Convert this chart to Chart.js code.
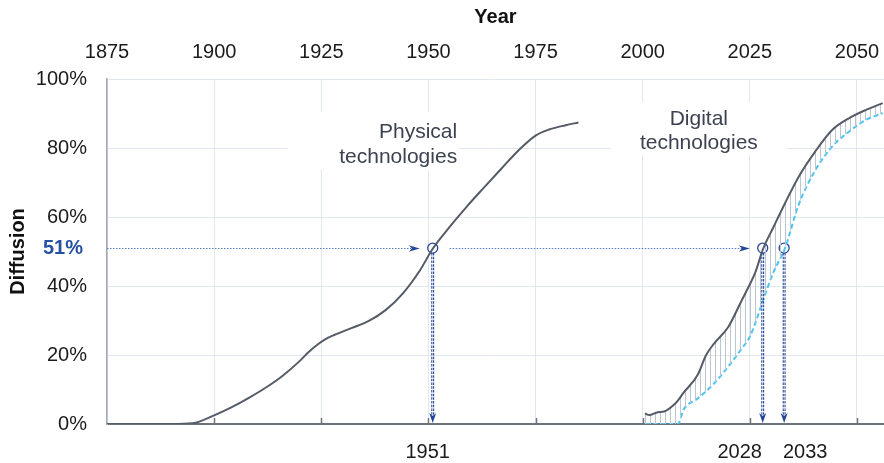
<!DOCTYPE html>
<html><head><meta charset="utf-8">
<script src="https://cdn.jsdelivr.net/npm/chart.js@4.4.1/dist/chart.umd.min.js"></script>
<style>html,body{margin:0;padding:0;background:#fff;overflow:hidden}</style>
</head><body>
<canvas id="c" width="884" height="463"></canvas>
<script>
// ---------- data ----------
const xTickYears = [1875, 1900, 1925, 1950, 1975, 2000, 2025, 2050];
const yTickValues = [0, 20, 40, 60, 80, 100];

const physicalYears  = [1875, 1890, 1895, 1900, 1904, 1908, 1912, 1916, 1920, 1922, 1924, 1926, 1928, 1932, 1936, 1940, 1944, 1948, 1951, 1955, 1959, 1963, 1967, 1971, 1975, 1978, 1982, 1985];
const physicalValues = [0, 0, 0.2, 2.5, 4.8, 7.5, 10.5, 14.0, 18.3, 20.8, 22.9, 24.6, 25.8, 27.8, 29.8, 33.0, 37.8, 44.5, 50.8, 57.2, 63.1, 68.6, 74.0, 79.3, 83.6, 85.3, 86.6, 87.4];

const digitalYears        = [2000.5, 2001.5, 2003.5, 2005, 2007.2, 2008.2, 2009.5, 2012.8, 2014.8, 2016.7, 2020, 2023, 2025, 2026.2, 2028.1, 2030.4, 2033.2, 2036.4, 2040.2, 2044.2, 2048.1, 2052, 2056];
const digitalActualValues = [3.1, 2.6, 3.4, 3.6, 5.5, 6.8, 9.0, 14.2, 20.0, 23.4, 28.2, 35.6, 40.5, 43.7, 50.8, 56.8, 64.0, 71.7, 78.9, 85.2, 88.6, 91.0, 93.0];
const digitalLaggedValues = [0, 0, 0, 0, 0, 0, 4.1, 7.4, 9.5, 11.8, 16.7, 21.7, 25.3, 29.0, 35.9, 43.7, 51.0, 63.6, 73.4, 80.4, 84.7, 88.1, 90.1];

const crossLevel = 51;
const crossYears = [1951, 2028, 2033];
const crossLabels = ['1951', '2028', '2033'];
const seriesLabels = [['Physical', 'technologies'], ['Digital', 'technologies']];

// ---------- styling ----------
const FONT = '"Liberation Sans", Arial, Helvetica, sans-serif';
const GRID = '#e2e6ed';
const AXIS = '#6d727b';
const LINE = '#555c67';
const CYAN = '#4cc4f0';
const BLUE = '#24479a';
const DOT_BLUE = '#5378c0';
Chart.defaults.font.family = FONT;

const pc = document.createElement('canvas');
pc.width = 5; pc.height = 4;
const pctx = pc.getContext('2d');
pctx.fillStyle = '#bcc6d3';
pctx.fillRect(0, 0, 1, 4);
const hatch = pctx.createPattern(pc, 'repeat');

const toXY = (xs, ys) => xs.map((v, i) => ({ x: v, y: ys[i] }));

function stealth(ctx, tipX, tipY, dir, len, half) {
  ctx.beginPath();
  if (dir === 'right') {
    ctx.moveTo(tipX, tipY);
    ctx.lineTo(tipX - len, tipY - half);
    ctx.lineTo(tipX - len * 0.7, tipY);
    ctx.lineTo(tipX - len, tipY + half);
  } else {
    ctx.moveTo(tipX, tipY);
    ctx.lineTo(tipX - half, tipY - len);
    ctx.lineTo(tipX, tipY - len * 0.7);
    ctx.lineTo(tipX + half, tipY - len);
  }
  ctx.closePath();
  ctx.fill();
}

const overlay = {
  id: 'overlay',
  beforeDatasetsDraw(chart) {
    const { ctx, chartArea: a, scales: { x, y } } = chart;
    ctx.save();
    ctx.strokeStyle = AXIS; ctx.lineWidth = 1.5;
    xTickYears.forEach(v => {
      if (v === x.min) return;
      const px = Math.round(x.getPixelForValue(v)) + 0.5;
      ctx.beginPath(); ctx.moveTo(px, a.bottom); ctx.lineTo(px, a.bottom - 6); ctx.stroke();
    });
    ctx.font = '21px ' + FONT;
    ctx.textBaseline = 'alphabetic';
    let rx = x.getPixelForValue(1956.7), b1 = y.getPixelForValue(82.9);
    ctx.fillStyle = '#fff';
    ctx.fillRect(rx - 170, b1 - 26, 172, 58);
    ctx.fillStyle = '#3c4250'; ctx.textAlign = 'right';
    ctx.fillText(seriesLabels[0][0], rx, b1);
    ctx.fillText(seriesLabels[0][1], rx, b1 + 25);
    let cx = x.getPixelForValue(2013.1); b1 = y.getPixelForValue(86.7);
    ctx.fillStyle = '#fff';
    ctx.fillRect(cx - 88, b1 - 23, 176, 53);
    ctx.fillStyle = '#3c4250'; ctx.textAlign = 'center';
    ctx.fillText(seriesLabels[1][0], cx, b1);
    ctx.fillText(seriesLabels[1][1], cx, b1 + 24);
    ctx.restore();
  },
  afterDatasetsDraw(chart) {
    const { ctx, chartArea: a, scales: { x, y } } = chart;
    const py = y.getPixelForValue(crossLevel);
    const px = crossYears.map(v => x.getPixelForValue(v));
    ctx.save();
    ctx.strokeStyle = DOT_BLUE; ctx.lineWidth = 1; ctx.setLineDash([1.5, 1.5]);
    const seg = (x0, x1) => { ctx.beginPath(); ctx.moveTo(x0, py + 0.5); ctx.lineTo(x1, py + 0.5); ctx.stroke(); };
    seg(a.left, px[0] - 20);
    seg(px[0] + 17, px[1] - 20);
    ctx.setLineDash([]);
    ctx.fillStyle = BLUE;
    stealth(ctx, px[0] - 13, py + 0.5, 'right', 11, 3.2);
    stealth(ctx, px[1] - 13, py + 0.5, 'right', 11, 3.2);
    px.forEach(p => {
      ctx.strokeStyle = BLUE; ctx.lineWidth = 1.1; ctx.setLineDash([2.5, 1.2]);
      [-0.9, 0.9].forEach(d => {
        ctx.beginPath(); ctx.moveTo(p + d, py + 5); ctx.lineTo(p + d, a.bottom - 7); ctx.stroke();
      });
      ctx.setLineDash([]);
      stealth(ctx, p, a.bottom - 1, 'down', 10, 3.5);
    });
    ctx.font = 'bold 20px ' + FONT;
    ctx.fillStyle = '#2550a3'; ctx.textAlign = 'right'; ctx.textBaseline = 'middle';
    ctx.fillText(crossLevel + '%', a.left - 24, py);
    const offs = [-5, -23, 21];
    ctx.font = '20px ' + FONT; ctx.fillStyle = '#1b1b1b'; ctx.textAlign = 'center';
    px.forEach((p, i) => ctx.fillText(crossLabels[i], p + offs[i], a.bottom + 28));
    ctx.restore();
  }
};

new Chart(document.getElementById('c'), {
  type: 'line',
  data: {
    datasets: [
      { label: 'Physical technologies', data: toXY(physicalYears, physicalValues),
        borderColor: LINE, borderWidth: 2, pointRadius: 0, cubicInterpolationMode: 'monotone', fill: false },
      { label: 'Digital technologies', data: toXY(digitalYears, digitalActualValues),
        borderColor: LINE, borderWidth: 2, pointRadius: 0, cubicInterpolationMode: 'monotone',
        fill: '+1', backgroundColor: hatch },
      { label: 'Digital (lagged)', data: toXY(digitalYears, digitalLaggedValues),
        borderColor: CYAN, borderWidth: 2, borderDash: [5, 3], pointRadius: 0, cubicInterpolationMode: 'monotone', fill: false },
      { label: '51% crossings', data: crossYears.map(v => ({ x: v, y: crossLevel })),
        showLine: false, pointRadius: 5, pointBorderWidth: 1.3, pointBorderColor: BLUE,
        pointBackgroundColor: 'rgba(0,0,0,0)', fill: false, clip: false }
    ]
  },
  options: {
    responsive: false, animation: false,
    layout: { autoPadding: false, padding: { top: 0, right: 0, bottom: 39, left: 0 } },
    plugins: { legend: { display: false }, tooltip: { enabled: false } },
    scales: {
      x: {
        type: 'linear', position: 'top', min: 1875, max: 2056.3,
        afterBuildTicks: s => { s.ticks = xTickYears.map(v => ({ value: v })); },
        afterFit: s => { s.height = 79; },
        ticks: { autoSkip: false, maxRotation: 0, padding: 0, color: '#1b1b1b', font: { size: 20 }, callback: v => String(v) },
        grid: { color: GRID, lineWidth: 1, drawTicks: true, tickLength: 15, tickColor: 'rgba(0,0,0,0)' },
        border: { display: false },
        title: { display: true, text: 'Year', color: '#111', font: { size: 20, weight: 'bold' }, padding: { top: 5, bottom: 0 } }
      },
      y: {
        min: 0, max: 100,
        afterBuildTicks: s => { s.ticks = yTickValues.map(v => ({ value: v })); },
        afterFit: s => { s.width = 107; },
        ticks: { padding: 20, color: '#1b1b1b', font: { size: 20 }, callback: v => v + '%' },
        grid: { drawTicks: false,
          color: c => (c.tick && c.tick.value === 0) ? AXIS : GRID,
          lineWidth: c => (c.tick && c.tick.value === 0) ? 2 : 1 },
        border: { display: true, color: '#a2a8b1', width: 1.5 },
        title: { display: true, text: 'Diffusion', color: '#111', font: { size: 20, weight: 'bold' }, padding: { top: 6, bottom: 0 } }
      }
    }
  },
  plugins: [overlay]
});
</script>
</body></html>
